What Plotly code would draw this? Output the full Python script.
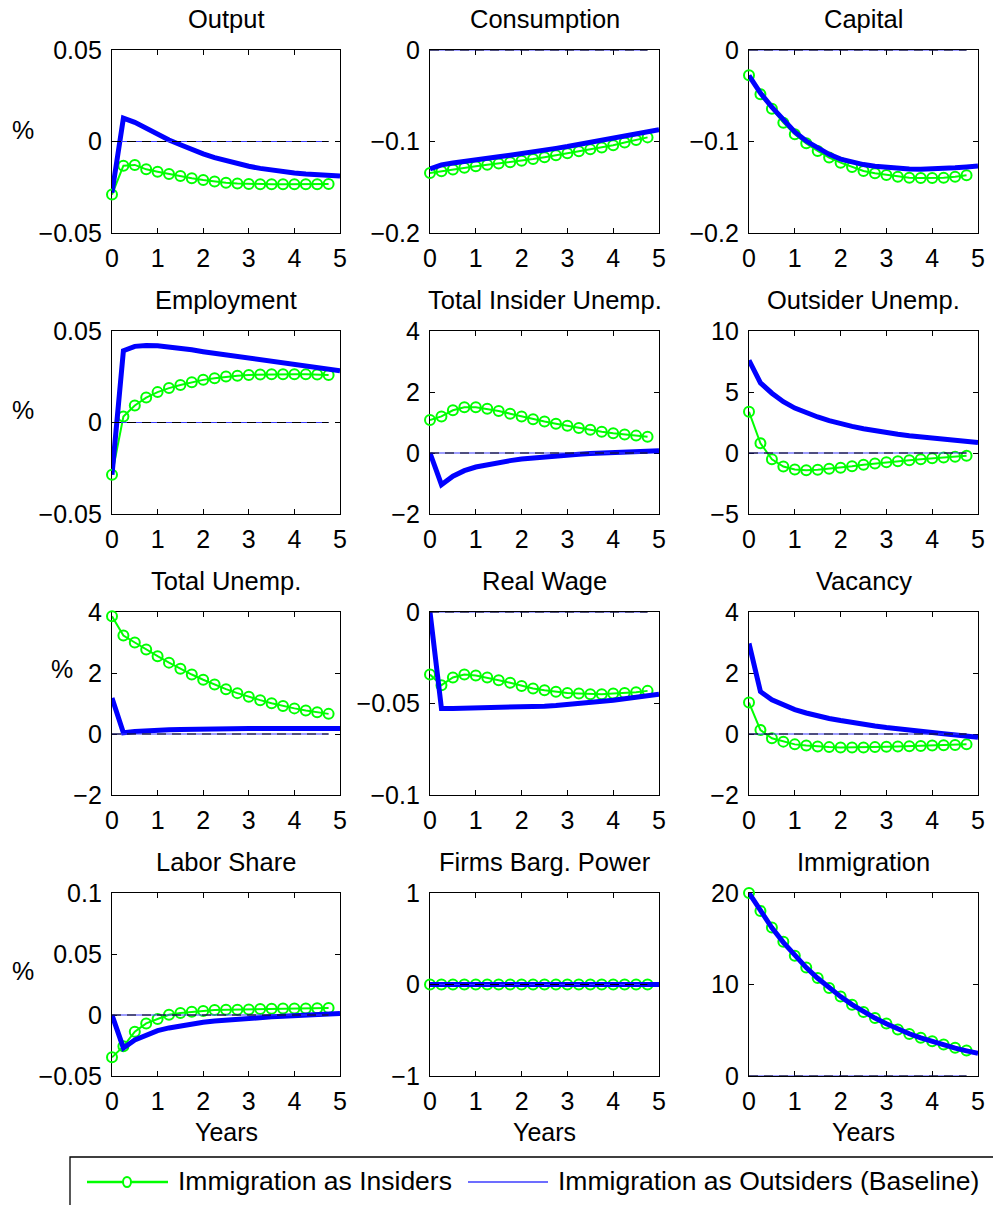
import plotly.graph_objects as go

W, H = 993, 1205
FONT = "Liberation Sans, Arial, Helvetica, sans-serif"
GREEN = "#00ff00"
BLUE = "#0000ff"
THIN_BLUE = "#3c3cff"

# ---------------- data ----------------
quarters_ins = [0, 0.25, 0.5, 0.75, 1, 1.25, 1.5, 1.75, 2, 2.25, 2.5, 2.75,
                3, 3.25, 3.5, 3.75, 4, 4.25, 4.5, 4.75]
quarters_out = [0, 0.25, 0.5, 0.75, 1, 1.25, 1.5, 1.75, 2, 2.25, 2.5, 2.75,
                3, 3.25, 3.5, 3.75, 4, 4.25, 4.5, 4.75, 5]
zero_t = [0, 4.75]
zero_v = [0, 0]

titles = ["Output", "Consumption", "Capital",
          "Employment", "Total Insider Unemp.", "Outsider Unemp.",
          "Total Unemp.", "Real Wage", "Vacancy",
          "Labor Share", "Firms Barg. Power", "Immigration"]

ylims = [[-0.05, 0.05], [-0.2, 0], [-0.2, 0],
         [-0.05, 0.05], [-2, 4], [-5, 10],
         [-2, 4], [-0.1, 0], [-2, 4],
         [-0.05, 0.1], [-1, 1], [0, 20]]

ytick_vals = [[-0.05, 0, 0.05], [-0.2, -0.1, 0], [-0.2, -0.1, 0],
              [-0.05, 0, 0.05], [-2, 0, 2, 4], [-5, 0, 5, 10],
              [-2, 0, 2, 4], [-0.1, -0.05, 0], [-2, 0, 2, 4],
              [-0.05, 0, 0.05, 0.1], [-1, 0, 1], [0, 10, 20]]
ytick_text = [["\u22120.05", "0", "0.05"], ["\u22120.2", "\u22120.1", "0"], ["\u22120.2", "\u22120.1", "0"],
              ["\u22120.05", "0", "0.05"], ["\u22122", "0", "2", "4"], ["\u22125", "0", "5", "10"],
              ["\u22122", "0", "2", "4"], ["\u22120.1", "\u22120.05", "0"], ["\u22122", "0", "2", "4"],
              ["\u22120.05", "0", "0.05", "0.1"], ["\u22121", "0", "1"], ["0", "10", "20"]]
xtick_vals = [0, 1, 2, 3, 4, 5]
xtick_text = ["0", "1", "2", "3", "4", "5"]

# Immigration as Insiders (green, quarterly)
output_ins = [-0.029, -0.0132, -0.0128, -0.0152, -0.0165, -0.0178, -0.0188, -0.0201, -0.021, -0.0218,
              -0.0225, -0.0229, -0.0232, -0.0233, -0.0234, -0.0234, -0.0234, -0.0233, -0.0233, -0.0232]
cons_ins = [-0.1345, -0.1325, -0.1306, -0.1288, -0.127, -0.1255, -0.124, -0.1226, -0.121, -0.1191,
            -0.1171, -0.115, -0.1128, -0.1107, -0.1086, -0.1065, -0.104, -0.1012, -0.0983, -0.0955]
capital_ins = [-0.0277, -0.0484, -0.0641, -0.0794, -0.0921, -0.102, -0.1104, -0.1176, -0.1231, -0.1279,
               -0.1322, -0.1348, -0.1366, -0.1384, -0.1395, -0.1399, -0.1399, -0.1395, -0.1384, -0.1369]
emp_ins = [-0.0285, 0.0033, 0.0093, 0.0136, 0.0166, 0.0188, 0.0205, 0.022, 0.0233, 0.0242,
           0.0251, 0.0256, 0.026, 0.0262, 0.0264, 0.0264, 0.0264, 0.0263, 0.0262, 0.026]
ins_unemp_ins = [1.08, 1.2, 1.4, 1.5, 1.5, 1.45, 1.38, 1.29, 1.2, 1.11,
                 1.03, 0.96, 0.89, 0.82, 0.76, 0.7, 0.65, 0.61, 0.57, 0.53]
out_unemp_ins = [3.38, 0.8, -0.51, -1.11, -1.35, -1.42, -1.38, -1.3, -1.2, -1.09,
                 -0.97, -0.86, -0.76, -0.67, -0.59, -0.51, -0.44, -0.37, -0.3, -0.23]
tot_unemp_ins = [3.86, 3.23, 3.0, 2.77, 2.55, 2.34, 2.14, 1.95, 1.78, 1.62,
                 1.47, 1.34, 1.22, 1.11, 1.01, 0.92, 0.84, 0.77, 0.71, 0.66]
wage_ins = [-0.0342, -0.04, -0.0358, -0.0342, -0.0347, -0.0358, -0.0373, -0.0387, -0.0404, -0.0418,
            -0.0427, -0.0436, -0.0442, -0.0445, -0.0449, -0.0449, -0.0445, -0.0442, -0.0438, -0.0431]
vac_ins = [1.03, 0.13, -0.14, -0.25, -0.34, -0.38, -0.41, -0.43, -0.44, -0.44,
           -0.44, -0.43, -0.42, -0.41, -0.4, -0.39, -0.38, -0.37, -0.36, -0.34]
lshare_ins = [-0.0347, -0.0257, -0.0137, -0.0069, -0.0033, 0.0002, 0.0016, 0.0027, 0.0033, 0.0041,
              0.0043, 0.0044, 0.0046, 0.0049, 0.0051, 0.0053, 0.0054, 0.0054, 0.0055, 0.0057]
bargain_ins = [0, 0, 0, 0, 0, 0, 0, 0, 0, 0, 0, 0, 0, 0, 0, 0, 0, 0, 0, 0]
immig_ins = [20.0, 18.04, 16.24, 14.68, 13.15, 11.85, 10.7, 9.61, 8.7, 7.79,
             7.0, 6.35, 5.73, 5.08, 4.6, 4.17, 3.8, 3.45, 3.09, 2.79]

# Immigration as Outsiders (Baseline, blue)
output_out = [-0.028, 0.0128, 0.0105, 0.0072, 0.0038, 0.0008, -0.0018, -0.0045, -0.0068, -0.0088, -0.0106,
              -0.0121, -0.0135, -0.0147, -0.0157, -0.0165, -0.0172, -0.0178, -0.0183, -0.0186, -0.0189]
cons_out = [-0.13, -0.1255, -0.1235, -0.1215, -0.1195, -0.1181, -0.1166, -0.115, -0.1134, -0.1115, -0.1095,
            -0.1075, -0.1055, -0.1033, -0.101, -0.0986, -0.0962, -0.0939, -0.0916, -0.0893, -0.087]
capital_out = [-0.028, -0.047, -0.0625, -0.077, -0.0895, -0.0995, -0.1075, -0.114, -0.1192, -0.1228, -0.1252,
               -0.1271, -0.1285, -0.1294, -0.13, -0.1302, -0.13, -0.1295, -0.1288, -0.1279, -0.1268]
emp_out = [-0.0285, 0.0392, 0.0416, 0.0421, 0.0419, 0.0413, 0.0406, 0.0397, 0.0387, 0.0378, 0.037,
           0.036, 0.0351, 0.0342, 0.0333, 0.0323, 0.0314, 0.0306, 0.0298, 0.029, 0.0283]
ins_unemp_out = [0, -1.04, -0.76, -0.58, -0.46, -0.38, -0.31, -0.25, -0.2, -0.16, -0.12,
                 -0.09, -0.06, -0.04, -0.02, -0.005, 0.01, 0.025, 0.04, 0.055, 0.07]
out_unemp_out = [7.6, 5.75, 4.9, 4.2, 3.68, 3.28, 2.95, 2.66, 2.4, 2.18, 1.99,
                 1.82, 1.67, 1.54, 1.42, 1.31, 1.21, 1.11, 1.02, 0.93, 0.85]
tot_unemp_out = [1.18, 0.04, 0.08, 0.11, 0.13, 0.14, 0.15, 0.16, 0.165, 0.17, 0.172,
                 0.175, 0.177, 0.178, 0.179, 0.18, 0.18, 0.18, 0.18, 0.18, 0.18]
wage_out = [0, -0.0527, -0.0527, -0.0526, -0.0525, -0.0524, -0.0523, -0.0522, -0.052, -0.0518, -0.0515,
            -0.0511, -0.0506, -0.0501, -0.0495, -0.0489, -0.0482, -0.0474, -0.0466, -0.0458, -0.0449]
vac_out = [2.97, 1.39, 1.12, 0.94, 0.8, 0.69, 0.59, 0.51, 0.44, 0.37, 0.31,
           0.26, 0.21, 0.16, 0.12, 0.08, 0.05, 0.01, -0.03, -0.07, -0.11]
lshare_out = [0, -0.027, -0.0205, -0.0161, -0.0128, -0.0106, -0.0088, -0.0073, -0.006, -0.005, -0.0041,
              -0.0033, -0.0026, -0.002, -0.0015, -0.001, -0.0006, -0.0002, 0.0003, 0.0008, 0.0013]
bargain_out = [0, 0, 0, 0, 0, 0, 0, 0, 0, 0, 0, 0, 0, 0, 0, 0, 0, 0, 0, 0, 0]
immig_out = [20.0, 18.0, 16.2, 14.6, 13.15, 11.85, 10.68, 9.62, 8.68, 7.8, 7.02,
             6.33, 5.7, 5.12, 4.62, 4.16, 3.76, 3.38, 3.05, 2.75, 2.47]

series_ins = [output_ins, cons_ins, capital_ins, emp_ins, ins_unemp_ins, out_unemp_ins,
              tot_unemp_ins, wage_ins, vac_ins, lshare_ins, bargain_ins, immig_ins]
series_out = [output_out, cons_out, capital_out, emp_out, ins_unemp_out, out_unemp_out,
              tot_unemp_out, wage_out, vac_out, lshare_out, bargain_out, immig_out]

legend_names = ["Immigration as Insiders", "Immigration as Outsiders (Baseline)"]

# ---------------- layout geometry (pixels) ----------------
col_px = [(112, 340), (430, 659), (749, 978)]
row_px = [(50, 233), (331, 514), (612, 795), (893, 1076)]


def fx(px):
    return px / W


def fy(py):
    return 1 - py / H


fig = go.Figure()
layout = dict(
    template="none",
    width=W, height=H, margin=dict(l=0, r=0, t=0, b=0, pad=0, autoexpand=False),
    paper_bgcolor="white", plot_bgcolor="white", showlegend=False,
    font=dict(family=FONT, size=25, color="black"),
)
annotations = []
shapes = []

for i in range(12):
    r, c = divmod(i, 3)
    sfx = "" if i == 0 else str(i + 1)
    xa, ya = "x" + sfx, "y" + sfx
    x0, x1 = col_px[c]
    y0, y1 = row_px[r]

    fig.add_trace(go.Scatter(
        x=quarters_ins, y=series_ins[i], xaxis=xa, yaxis=ya, mode="lines+markers",
        line=dict(color=GREEN, width=2),
        marker=dict(symbol="circle-open", size=10, color=GREEN, line=dict(width=2, color=GREEN)),
        cliponaxis=False, name=legend_names[0], showlegend=False))
    fig.add_trace(go.Scatter(
        x=quarters_out, y=series_out[i], xaxis=xa, yaxis=ya, mode="lines",
        line=dict(color=BLUE, width=5), name=legend_names[1], showlegend=False))
    fig.add_trace(go.Scatter(
        x=zero_t, y=zero_v, xaxis=xa, yaxis=ya, mode="lines",
        line=dict(color=THIN_BLUE, width=1.2), cliponaxis=False, showlegend=False, hoverinfo="skip"))
    fig.add_trace(go.Scatter(
        x=zero_t, y=zero_v, xaxis=xa, yaxis=ya, mode="lines",
        line=dict(color="black", width=1, dash="9px,6px"), cliponaxis=False, showlegend=False,
        hoverinfo="skip"))

    common = dict(ticks="inside", ticklen=5, tickwidth=1, tickcolor="black",
                  showline=True, linecolor="black", linewidth=1.3, mirror="ticks",
                  showgrid=False, zeroline=False, layer="below traces", automargin=False,
                  tickfont=dict(family=FONT, size=25, color="black"))
    layout["xaxis" + sfx] = dict(domain=[fx(x0), fx(x1)], range=[0, 5], anchor=ya,
                                 tickmode="array", tickvals=xtick_vals, ticktext=xtick_text,
                                 ticklabelstandoff=3, **common)
    layout["yaxis" + sfx] = dict(domain=[fy(y1), fy(y0)], range=ylims[i], anchor=xa,
                                 tickmode="array", tickvals=ytick_vals[i], ticktext=ytick_text[i],
                                 ticklabelstandoff=4, **common)

    annotations.append(dict(text=titles[i], xref="paper", yref="paper",
                            x=fx((x0 + x1) / 2), y=fy(y0 - 15), xanchor="center", yanchor="bottom",
                            showarrow=False, font=dict(family=FONT, size=25.5, color="black")))
    if r == 3:
        annotations.append(dict(text="Years", xref="paper", yref="paper",
                                x=fx((x0 + x1) / 2), y=fy(1132), xanchor="center", yanchor="middle",
                                showarrow=False, font=dict(family=FONT, size=25, color="black")))

# y labels "%"
for (px_x, px_y) in [(23, 130), (23, 410), (62, 669), (23, 971)]:
    annotations.append(dict(text="%", xref="paper", yref="paper", x=fx(px_x), y=fy(px_y),
                            xanchor="center", yanchor="middle", showarrow=False,
                            font=dict(family=FONT, size=25, color="black")))

# legend box (drawn)
shapes.append(dict(type="rect", xref="paper", yref="paper", x0=fx(70), x1=fx(1000),
                   y0=fy(1215), y1=fy(1157), line=dict(color="black", width=1.3),
                   fillcolor="white", layer="above"))
shapes.append(dict(type="line", xref="paper", yref="paper", x0=fx(87), x1=fx(168),
                   y0=fy(1182), y1=fy(1182), line=dict(color=GREEN, width=2.5)))
shapes.append(dict(type="circle", xref="paper", yref="paper", x0=fx(123), x1=fx(131),
                   y0=fy(1187), y1=fy(1177), line=dict(color=GREEN, width=2), fillcolor="white"))
shapes.append(dict(type="line", xref="paper", yref="paper", x0=fx(468), x1=fx(548),
                   y0=fy(1182), y1=fy(1182), line=dict(color=THIN_BLUE, width=1.5)))
annotations.append(dict(text=legend_names[0], xref="paper", yref="paper", x=fx(176), y=fy(1181),
                        xanchor="left", yanchor="middle", showarrow=False,
                        font=dict(family=FONT, size=26.5, color="black")))
annotations.append(dict(text=legend_names[1], xref="paper", yref="paper", x=fx(556), y=fy(1181),
                        xanchor="left", yanchor="middle", showarrow=False,
                        font=dict(family=FONT, size=26.5, color="black")))

layout["annotations"] = annotations
layout["shapes"] = shapes
fig.update_layout(**layout)
fig.write_html("out.html")
